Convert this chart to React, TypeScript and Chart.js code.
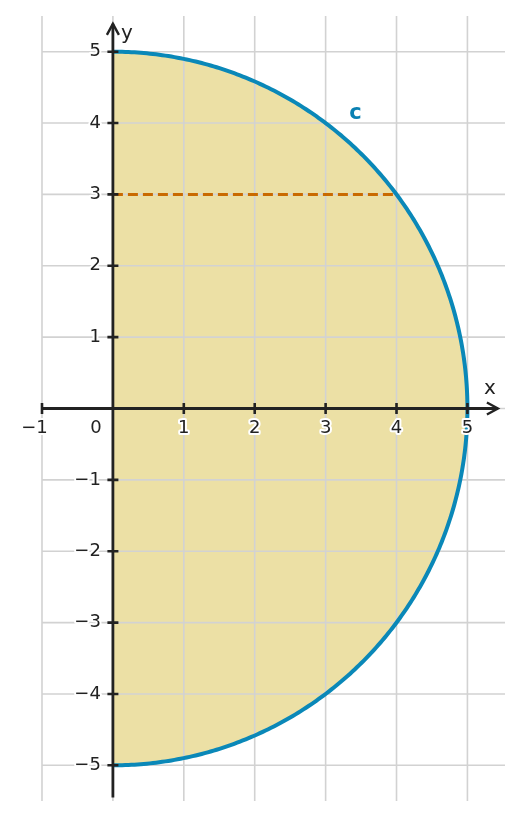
import { useEffect, useRef } from 'react';
import { Chart, registerables } from 'chart.js';
import type { Plugin } from 'chart.js';

Chart.register(...registerables);

// circle x² + y² = r², right half only
const radius = 5;
const arcSteps = 180;
// dashed chord at y = 3, from the y axis to the circle
const chordY = 3;
const chordXs = [0, 4];
const xTicks = [-1, 0, 1, 2, 3, 4, 5];
const yTicks = [-5, -4, -3, -2, -1, 1, 2, 3, 4, 5];
const gridXs = [-1, 0, 1, 2, 3, 4, 5];
const gridYs = [-5, -4, -3, -2, -1, 0, 1, 2, 3, 4, 5];
const xAxisRange = [-1, 5.43];
const yAxisRange = [-5.45, 5.39];
const curveLabel = { text: 'c', x: 3.42, y: 4.14 };

const FONT = '"DejaVu Sans", sans-serif';
const INK = '#222222';

function arcPoints() {
  const pts: { x: number; y: number }[] = [];
  for (let i = 0; i <= arcSteps; i++) {
    const a = Math.PI / 2 - (Math.PI * i) / arcSteps;
    pts.push({ x: radius * Math.cos(a), y: radius * Math.sin(a) });
  }
  return pts;
}

const overlay: Plugin = {
  id: 'overlay',
  // grid goes right after the filled half disc, under the curves
  afterDatasetDraw(chart, args) {
    if (args.index !== 0) return;
    const { ctx, chartArea: a } = chart;
    const xs = chart.scales.x;
    const ys = chart.scales.y;
    ctx.save();
    ctx.strokeStyle = '#d2d2d2';
    ctx.lineWidth = 1.6;
    ctx.beginPath();
    gridXs.forEach((v) => {
      const p = xs.getPixelForValue(v);
      ctx.moveTo(p, a.top);
      ctx.lineTo(p, a.bottom);
    });
    gridYs.forEach((v) => {
      const p = ys.getPixelForValue(v);
      ctx.moveTo(a.left, p);
      ctx.lineTo(a.right, p);
    });
    ctx.stroke();
    ctx.restore();
  },
  afterDatasetsDraw(chart) {
    const { ctx } = chart;
    const xs = chart.scales.x;
    const ys = chart.scales.y;
    const x0 = xs.getPixelForValue(0);
    const y0 = ys.getPixelForValue(0);
    ctx.save();
    ctx.strokeStyle = INK;
    ctx.fillStyle = INK;
    ctx.lineWidth = 2.8;
    ctx.lineCap = 'butt';

    // axis lines
    const xr = xs.getPixelForValue(xAxisRange[1]);
    const yt = ys.getPixelForValue(yAxisRange[1]);
    ctx.beginPath();
    ctx.moveTo(xs.getPixelForValue(xAxisRange[0]), y0);
    ctx.lineTo(xr, y0);
    ctx.moveTo(x0, ys.getPixelForValue(yAxisRange[0]));
    ctx.lineTo(x0, yt);
    ctx.stroke();

    // arrow heads
    ctx.lineWidth = 2.4;
    ctx.lineJoin = 'miter';
    ctx.beginPath();
    ctx.moveTo(xr - 11, y0 - 6);
    ctx.lineTo(xr, y0);
    ctx.lineTo(xr - 11, y0 + 6);
    ctx.moveTo(x0 - 6, yt + 11);
    ctx.lineTo(x0, yt);
    ctx.lineTo(x0 + 6, yt + 11);
    ctx.stroke();

    // tick marks
    ctx.lineWidth = 2.6;
    ctx.beginPath();
    xTicks.forEach((v) => {
      if (v === 0) return;
      const p = xs.getPixelForValue(v);
      ctx.moveTo(p, y0 - 5.5);
      ctx.lineTo(p, y0 + 5.5);
    });
    yTicks.forEach((v) => {
      const p = ys.getPixelForValue(v);
      ctx.moveTo(x0 - 5.5, p);
      ctx.lineTo(x0 + 5.5, p);
    });
    ctx.stroke();

    // tick labels with white halo
    ctx.font = `18px ${FONT}`;
    ctx.lineJoin = 'round';
    const label = (t: string, x: number, y: number, align: CanvasTextAlign) => {
      ctx.textAlign = align;
      ctx.textBaseline = 'middle';
      ctx.strokeStyle = '#ffffff';
      ctx.lineWidth = 4;
      ctx.strokeText(t, x, y);
      ctx.fillStyle = INK;
      ctx.fillText(t, x, y);
    };
    xTicks.forEach((v) => {
      const p = xs.getPixelForValue(v);
      if (v === 0) {
        label('0', p - 17, y0 + 20, 'center');
      } else if (v < 0) {
        const digits = String(Math.abs(v));
        const w = ctx.measureText(digits).width;
        label('\u2212' + digits, p + w / 2, y0 + 20, 'right');
      } else {
        label(String(v), p, y0 + 20, 'center');
      }
    });
    yTicks.forEach((v) => {
      const p = ys.getPixelForValue(v);
      const t = v < 0 ? '\u2212' + Math.abs(v) : String(v);
      label(t, x0 - 12, p, 'right');
    });

    // axis names
    ctx.fillStyle = INK;
    ctx.textAlign = 'center';
    ctx.textBaseline = 'middle';
    ctx.font = `20px ${FONT}`;
    ctx.fillText('x', xr - 8, y0 - 20);
    ctx.fillText('y', x0 + 14, yt + 10);

    // curve name
    ctx.fillStyle = '#0a80b2';
    ctx.font = `bold 21px ${FONT}`;
    ctx.fillText(curveLabel.text, xs.getPixelForValue(curveLabel.x), ys.getPixelForValue(curveLabel.y));
    ctx.restore();
  },
};

export default function App() {
  const canvasRef = useRef<HTMLCanvasElement>(null);
  const chartRef = useRef<Chart | null>(null);

  useEffect(() => {
    if (!canvasRef.current) return;
    const ctx = canvasRef.current.getContext('2d');
    if (!ctx) return;
    const arc = arcPoints();

    chartRef.current = new Chart(ctx, {
      type: 'line',
      data: {
        datasets: [
          {
            data: arc,
            borderWidth: 0,
            borderColor: 'rgba(0,0,0,0)',
            backgroundColor: '#ece0a5',
            fill: 'origin',
            pointRadius: 0,
            tension: 0.01,
            order: 3,
          },
          {
            data: chordXs.map((x) => ({ x, y: chordY })),
            borderColor: '#c96a00',
            borderWidth: 3,
            borderDash: [10, 5],
            fill: false,
            pointRadius: 0,
            order: 2,
          },
          {
            data: arc,
            borderColor: '#0a88b8',
            borderWidth: 4,
            fill: false,
            pointRadius: 0,
            tension: 0.01,
            order: 1,
          },
        ],
      },
      options: {
        indexAxis: 'y',
        responsive: false,
        animation: false,
        layout: { padding: { left: 42, right: 17, top: 16, bottom: 18 } },
        plugins: { legend: { display: false }, tooltip: { enabled: false } },
        scales: {
          x: { type: 'linear', min: -1, max: 5.53, display: false },
          y: { type: 'linear', min: -5.5, max: 5.5, display: false },
        },
      },
      plugins: [overlay],
    });

    return () => {
      if (chartRef.current) chartRef.current.destroy();
    };
  }, []);

  return (
    <div style={{ position: 'absolute', left: 0, top: 0, width: 522, height: 819, background: '#ffffff' }}>
      <canvas ref={canvasRef} width={522} height={819} style={{ display: 'block' }}></canvas>
    </div>
  );
}
